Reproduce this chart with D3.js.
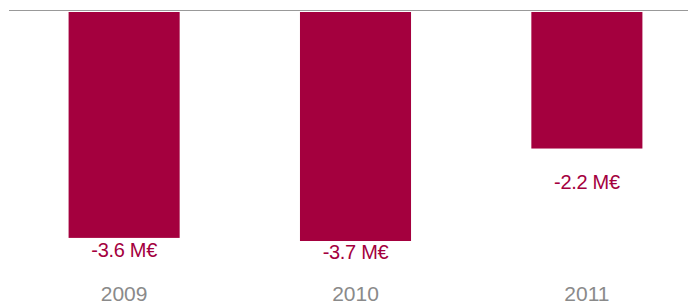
<!DOCTYPE html>
<html>
<head>
<meta charset="utf-8">
<script src="https://cdn.jsdelivr.net/npm/d3@7"></script>
<style>
  body { margin: 0; background: #fff; }
  svg { display: block; font-family: "Liberation Sans", Arial, sans-serif; }
</style>
</head>
<body>
<div id="chart"></div>
<script>
// data
var years = ["2009", "2010", "2011"];
var values = [-3.64, -3.69, -2.2];   // M€
var unit = " M€";

var w = 688, h = 305;
var barColor = "#a4003e", yearColor = "#8a8a8a", lineColor = "#999";

var svg = d3.select("#chart").append("svg")
	.attr("width", w).attr("height", h);

var X = d3.scaleBand().domain(years).range([20, 691])
	.paddingInner(0.52).paddingOuter(0.21);

var Y = d3.scaleLinear().domain([0, -3.69]).range([12, 241]);
// value labels sit below the bars, closer together than the bars themselves
var L = d3.scaleLinear().domain([-2.2, -3.64]).range([189, 257]);

// plain hyphen for the minus sign, like the original
var fmt = d3.formatLocale({decimal: ".", thousands: ",", grouping: [3], currency: ["", ""], minus: "-"}).format(".1f");
var rows = years.map(function(d, i){ return {year: d, v: values[i]}; });

svg.selectAll(".bar").data(rows).enter().append("rect")
	.attr("class", "bar")
	.attr("x", function(d){ return X(d.year); })
	.attr("width", X.bandwidth())
	.attr("y", Y(0))
	.attr("height", function(d){ return Y(d.v) - Y(0); })
	.style("fill", barColor);

// zero line
svg.append("line")
	.attr("x1", 9).attr("x2", w)
	.attr("y1", 10.5).attr("y2", 10.5)
	.style("stroke", lineColor).style("stroke-width", 1);

svg.selectAll(".val").data(rows).enter().append("text")
	.attr("class", "val")
	.attr("x", function(d){ return X(d.year) + X.bandwidth()/2; })
	.attr("y", function(d){ return L(d.v); })
	.attr("text-anchor", "middle")
	.style("font-size", "20px")
	.style("letter-spacing", "-0.3px")
	.style("fill", barColor)
	.text(function(d){ return fmt(d.v) + unit; });

svg.selectAll(".year").data(rows).enter().append("text")
	.attr("class", "year")
	.attr("x", function(d){ return X(d.year) + X.bandwidth()/2; })
	.attr("y", 301)
	.attr("text-anchor", "middle")
	.style("font-size", "21px")
	.style("fill", yearColor)
	.text(function(d){ return d.year; });
</script>
</body>
</html>
